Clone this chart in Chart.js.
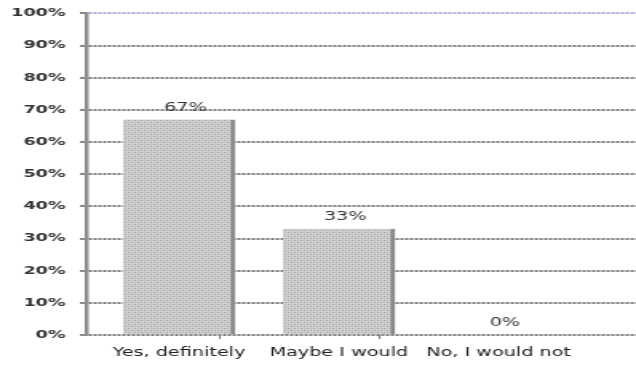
<!DOCTYPE html>
<html>
<head>
<meta charset="utf-8">
<script src="https://cdn.jsdelivr.net/npm/chart.js@4/dist/chart.umd.min.js"></script>
<style>
  html, body { margin: 0; padding: 0; background: #ffffff; overflow: hidden; }
  /* The chart is laid out narrow and widened horizontally for its wide lettering */
  #wrap {
    width: 398px; height: 366px; position: relative;
    transform: scaleX(1.598); transform-origin: 0 0;
  }
</style>
</head>
<body>
<div id="wrap"><canvas id="chart"></canvas></div>
<script>
// Survey answers and their share of respondents (percent)
const categories = ['Yes, definitely', 'Maybe I would', 'No, I would not'];
const shares = [67, 33, 0];
const yTickStep = 10;
const yMax = 100;

const FONT = '"DejaVu Sans", Verdana, sans-serif';

// Hatched grey fill for the bars
function makePattern() {
  const c = document.createElement('canvas');
  c.width = 4; c.height = 4;
  const g = c.getContext('2d');
  g.fillStyle = '#d0d0d0';
  g.fillRect(0, 0, 4, 4);
  g.fillStyle = '#a0a0a0';
  g.fillRect(0, 0, 1, 1);
  g.fillRect(2, 2, 1, 1);
  g.fillStyle = '#bababa';
  g.fillRect(2, 0, 1, 1);
  g.fillRect(0, 2, 1, 1);
  return g.createPattern(c, 'repeat');
}

// Percentage labels above each bar, placed from the bar element itself
const valueLabels = {
  id: 'valueLabels',
  afterDatasetsDraw(chart) {
    const ctx = chart.ctx;
    const meta = chart.getDatasetMeta(0);
    ctx.save();
    ctx.font = '12px ' + FONT;
    ctx.fillStyle = '#333333';
    ctx.textAlign = 'center';
    ctx.textBaseline = 'middle';
    meta.data.forEach((bar, i) => {
      ctx.fillText(shares[i] + '%', bar.x + 4, bar.y - 12);
    });
    ctx.restore();
  }
};

new Chart(document.getElementById('chart'), {
  type: 'bar',
  data: {
    datasets: [{
      data: shares.map((v, i) => ({ x: i, y: v })),
      backgroundColor: makePattern(),
      borderColor: '#8c8c8c',
      borderWidth: { top: 0, left: 0, bottom: 0, right: 3 },
      borderSkipped: false,
      barThickness: 70
    }]
  },
  options: {
    responsive: true,
    maintainAspectRatio: false,
    animation: false,
    events: [],
    layout: { padding: { top: 0, right: 0, bottom: 0, left: 0 } },
    plugins: { legend: { display: false }, tooltip: { enabled: false } },
    scales: {
      x: {
        type: 'linear',
        offset: false,
        min: -0.58,
        max: 2.86,
        afterBuildTicks(scale) {
          scale.ticks = [0, 0.5, 1, 1.5, 2].map(v => ({ value: v }));
        },
        afterFit(scale) { scale.height = 31; },
        grid: {
          drawOnChartArea: false,
          drawTicks: true,
          tickLength: 4,
          color: ctx => (ctx.tick && !Number.isInteger(ctx.tick.value)) ? '#777777' : 'rgba(0,0,0,0)'
        },
        border: { display: false },
        ticks: {
          autoSkip: false,
          maxRotation: 0,
          padding: 7,
          color: '#222222',
          font: { family: FONT, size: 12 },
          callback: v => Number.isInteger(v) ? categories[v] : ''
        }
      },
      y: {
        min: 0,
        max: yMax,
        afterFit(scale) { scale.width = 54; },
        ticks: {
          stepSize: yTickStep,
          padding: 9,
          color: '#333333',
          font: { family: FONT, size: 11, weight: 'bold', lineHeight: 0.8 },
          callback: v => v + '%'
        },
        grid: {
          color: ctx => (ctx.tick && ctx.tick.value === yMax) ? '#a8acd8' : '#7a7a7a',
          lineWidth: 2,
          tickLength: 4,
          tickColor: '#8a8a8a'
        },
        border: { color: '#8e8e8e', width: 2.5, dash: [2, 1] }
      }
    }
  },
  plugins: [valueLabels]
});
</script>
</body>
</html>
